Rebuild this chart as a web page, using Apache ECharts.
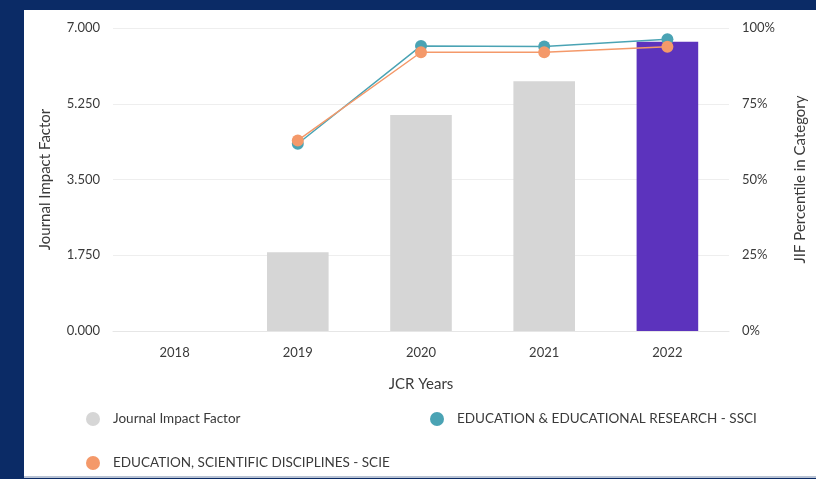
<!DOCTYPE html>
<html>
<head>
<meta charset="utf-8">
<script src="https://cdn.jsdelivr.net/npm/echarts@6/dist/echarts.min.js"></script>
<style>
    body { margin: 0; background: #0b2b66; }
    #panel {
        position: absolute; left: 24px; top: 10px; width: 792px; height: 466px;
        background: #ffffff; border-bottom: 2px solid #b9c3d4;
    }
</style>
</head>
<body>
<div id="panel">
    <div id="echart_table" style="width: 792px;height: 466px"></div>
</div>
<script>
    var years = ['2018', '2019', '2020', '2021', '2022'];
    var jif = [null, 1.82, 4.99, 5.77, 6.68];
    var ssci = [null, 61.8, 94.1, 93.9, 96.3];
    var scie = [null, 62.9, 92.0, 92.0, 93.8];
    var highlightYear = '2022';

    var txt = '#3a3a3a';
    var font = 'Lato';

    var mycharts = echarts.init(document.getElementById('echart_table'));

    var barData = jif.map(function (v, i) {
        return {
            value: v,
            itemStyle: {color: years[i] === highlightYear ? '#5c33bd' : '#d6d6d6'}
        };
    });

    var legendText = {color: txt, fontSize: 13.5, fontFamily: font, padding: [0, 0, 0, 8]};

    var option = {
        animation: false,
        textStyle: {fontFamily: font},
        grid: {left: 89, right: 86, top: 18, bottom: 145},
        legend: [{
            left: 57, top: 397, itemWidth: 14, itemHeight: 14,
            icon: 'circle',
            textStyle: legendText,
            data: ['Journal Impact Factor']
        }, {
            left: 401, top: 397, itemWidth: 14, itemHeight: 14,
            icon: 'circle',
            textStyle: legendText,
            data: ['EDUCATION & EDUCATIONAL RESEARCH - SSCI']
        }, {
            left: 57, top: 441, itemWidth: 14, itemHeight: 14,
            icon: 'circle',
            textStyle: legendText,
            data: ['EDUCATION, SCIENTIFIC DISCIPLINES - SCIE']
        }],
        xAxis: {
            type: 'category',
            data: years,
            name: 'JCR Years',
            nameLocation: 'middle',
            nameGap: 46,
            nameTextStyle: {color: txt, fontSize: 15, fontFamily: font},
            axisTick: {show: false},
            axisLine: {lineStyle: {color: '#e6e6e6'}},
            axisLabel: {color: txt, fontSize: 13, margin: 15, fontFamily: font}
        },
        yAxis: [{
            type: 'value',
            min: 0, max: 7, interval: 1.75,
            name: 'Journal Impact Factor',
            nameLocation: 'middle',
            nameGap: 60,
            nameRotate: 90,
            nameTextStyle: {color: txt, fontSize: 15, fontFamily: font},
            axisLine: {show: false},
            axisTick: {show: false},
            splitLine: {lineStyle: {color: '#eeeeee'}},
            axisLabel: {
                color: txt, fontSize: 13, margin: 13, fontFamily: font,
                formatter: function (v) { return v.toFixed(3); }
            }
        }, {
            type: 'value',
            min: 0, max: 100, interval: 25,
            name: 'JIF Percentile in Category',
            nameLocation: 'middle',
            nameGap: 64,
            nameRotate: 90,
            nameTextStyle: {color: txt, fontSize: 15, fontFamily: font},
            axisLine: {show: false},
            axisTick: {show: false},
            splitLine: {show: false},
            axisLabel: {color: txt, fontSize: 13, margin: 13, fontFamily: font, formatter: '{value}%'}
        }],
        series: [{
            name: 'Journal Impact Factor',
            type: 'bar',
            barWidth: '50%',
            itemStyle: {color: '#d6d6d6'},
            data: barData
        }, {
            name: 'EDUCATION & EDUCATIONAL RESEARCH - SSCI',
            type: 'line',
            yAxisIndex: 1,
            symbol: 'circle',
            symbolSize: 12,
            itemStyle: {color: '#4aa3b4'},
            lineStyle: {width: 1.5, color: '#4aa3b4'},
            data: ssci
        }, {
            name: 'EDUCATION, SCIENTIFIC DISCIPLINES - SCIE',
            type: 'line',
            yAxisIndex: 1,
            symbol: 'circle',
            symbolSize: 12,
            itemStyle: {color: '#f4996a'},
            lineStyle: {width: 1.5, color: '#f4996a'},
            data: scie
        }]
    };

    mycharts.setOption(option);
</script>
</body>
</html>
